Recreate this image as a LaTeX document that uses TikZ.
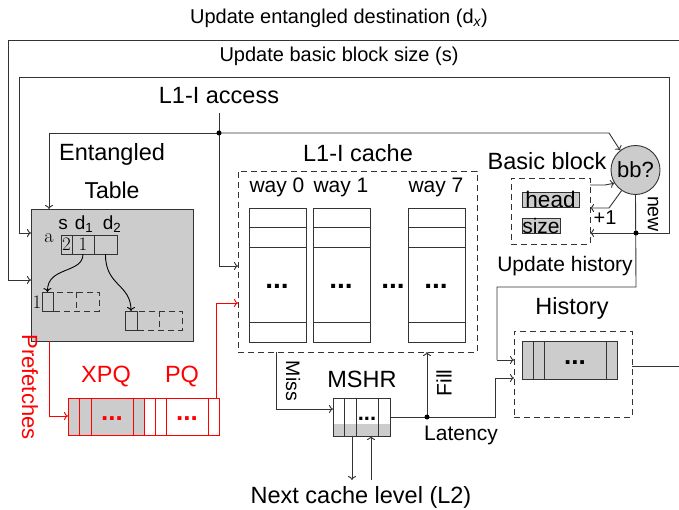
\documentclass[tikz,border=0pt]{standalone}
\usepackage{fontspec}
\newfontfamily\lsans{Liberation Sans}
\usetikzlibrary{arrows.meta}
\definecolor{lc}{HTML}{333333}
\definecolor{gf}{HTML}{CCCCCC}
\newcommand\myfs[1]{\lsans\fontsize{#1}{#1}\selectfont}
\newcommand\myrm[1]{\rmfamily\fontsize{#1}{#1}\selectfont}
\begin{document}
\begin{tikzpicture}[x=1pt,y=-1pt,
 ln/.style={draw=lc, line width=0.9pt},
 arr/.style={ln, -{To[length=4pt,width=8pt]}},
 rln/.style={draw=red, line width=0.9pt},
 rarr/.style={rln, -{To[length=4pt,width=8pt]}},
 dsh/.style={draw=lc, line width=0.9pt, dash pattern=on 6pt off 4pt},
 txt/.style={inner sep=0pt, font=\myfs{#1}},
 box/.style={draw=lc, line width=0.9pt, inner sep=0pt, outer sep=0pt, anchor=north west},
 dbox/.style={box, dash pattern=on 6pt off 4pt},
 rbox/.style={draw=red, line width=0.9pt, inner sep=0pt, outer sep=0pt, anchor=north west},
 dotn/.style={circle, fill=black, inner sep=0pt, minimum size=5pt},
 dots/.style={inner sep=0pt, anchor=base, font=\myfs{#1}\bfseries},
]
\useasboundingbox (0,0) rectangle (679,510);

% ---------- top labels ----------
\node[txt=20] (tdest) at (339,18) {Update entangled destination (d\textsubscript{\itshape x})};
\node[txt=20] (tsize) at (339,56) {Update basic block size (s)};
\node[txt=23.5] (acc) at (219,96) {L1-I access};

% ---------- Entangled table ----------
\node[txt=23.5] (ent1) at (112,154) {Entangled};
\node[txt=23] (ent2) at (112,190) {Table};
\node[box, fill=gf, minimum width=162pt, minimum height=132pt] (table) at (31,209) {};
\node[txt=19] (ls) at (63,224) {s};
\node[txt=19] (ld1) at (84,224) {d\textsubscript{1}};
\node[txt=19] (ld2) at (112,224) {d\textsubscript{2}};
\node[inner sep=0pt, font=\myrm{20}] (la) at (49,238) {a};
\node[box, minimum width=11pt, minimum height=19pt] (cs) at (61,235) {};
\node[box, minimum width=22pt, minimum height=19pt] (cd1) at (72,235) {};
\node[box, minimum width=23pt, minimum height=19pt] (cd2) at (94,235) {};
\node[inner sep=0pt, font=\myrm{19}] at (cs) {2};
\node[inner sep=0pt, font=\myrm{19}] at (cd1) {1};
\node[box, minimum width=11pt, minimum height=19pt] (e1) at (42,292) {};
\node[inner sep=0pt, font=\myrm{19}] (l1) at (37,302) {1};
\draw[dsh] (53,292) rectangle (99,311) (76,292) -- (76,311);
\node[box, minimum width=12pt, minimum height=19pt] (e2) at (125,311) {};
\draw[dsh] (137,311) rectangle (182,330) (159,311) -- (159,330);
\draw[arr, draw=black] (cd1.south) .. controls (83,274) and (47,266) .. (e1.north);
\draw[arr, draw=black] (cd2.south) .. controls (105,286) and (131,284) .. (e2.north);

% ---------- Prefetch queues ----------
\node[text=red, txt=22, rotate=-90] (pref) at (30,387) {Prefetches};
\node[text=red, txt=23.5] (xpql) at (106,377) {XPQ};
\node[text=red, txt=23.5] (pql) at (182,377) {PQ};
\fill[gf] (68,398) rectangle (144,435);
\node[rbox, minimum width=151pt, minimum height=37pt] (q) at (68,398) {};
\foreach \x in {79,91,133,144,155,166,208} \draw[rln] (\x,398) -- (\x,435);
\node[dots=26, text=red] at (112,420) {...};
\node[dots=26, text=red] at (187,420) {...};

% ---------- L1-I cache ----------
\node[txt=23.5] (cl) at (358,153) {L1-I cache};
\node[dbox, minimum width=239pt, minimum height=181pt] (cache) at (238,171) {};
\node[txt=21] at (277,187) {way 0};
\node[txt=21] at (341,187) {way 1};
\node[txt=21] at (436,187) {way 7};
\foreach \n/\x in {w0/249,w1/313,w7/408}{
  \node[box, minimum width=57pt, minimum height=134pt] (\n) at (\x,208) {};
  \draw[ln] (\x,227) -- +(57,0) (\x,247) -- +(57,0) (\x,322) -- +(57,0);
}
\node[dots=28] at (277,288) {...};
\node[dots=28] at (341,288) {...};
\node[dots=28] at (393,288) {...};
\node[dots=28] at (436,288) {...};

% ---------- Basic block ----------
\node[txt=23.5] (bbl) at (547,161) {Basic block};
\node[circle, draw=lc, line width=0.9pt, fill=gf, minimum size=49pt, inner sep=0pt, font=\myfs{22}] (bb) at (635.5,170) {bb?};
\node[dbox, minimum width=79pt, minimum height=66pt] (bbox) at (511,178) {};
\node[box, fill=gf, minimum width=57pt, minimum height=15pt] (head) at (522,192) {};
\node[txt=22.5] at (head) {head};
\node[box, fill=gf, minimum width=38pt, minimum height=15pt] (size) at (522,218) {};
\node[txt=21] at (size) {size};
\node[txt=20] (p1) at (605,218) {+1};
\node[txt=19.5, rotate=-90] (newl) at (653,214) {new};
\node[txt=21] (uh) at (565,266) {Update history};

% ---------- History ----------
\node[txt=23.5] (hl) at (572,308) {History};
\node[dbox, minimum width=118pt, minimum height=86pt] (hist) at (514,331) {};
\node[box, fill=gf, minimum width=95pt, minimum height=38pt] (hq) at (522,341) {};
\foreach \x in {533,544,606} \draw[ln] (\x,341) -- (\x,379);
\node[dots=26] at (575,364) {...};

% ---------- MSHR ----------
\node[txt=23.5] (ml) at (362,379) {MSHR};
\fill[gf] (333,424) rectangle (390,436);
\node[box, minimum width=57pt, minimum height=38pt] (mshr) at (333,398) {};
\foreach \x in {344,356,378} \draw[ln] (\x,398) -- (\x,436);
\node[dots=22] at (367,420) {...};
\node[txt=19.5, rotate=-90] (miss) at (293,381) {Miss};
\node[txt=21, rotate=90] (fill) at (444,383) {Fill};
\node[txt=21] (lat) at (461,435) {Latency};
\node[txt=23.5] (l2) at (361,497) {Next cache level (L2)};

% ---------- connectors ----------
% outer loop: update entangled destination
\draw[arr] (hist.east |- 0,366) -- (679,366) -- (679,40) -- (8,40) -- (8,280) -- (table.west |- 8,280);
% update basic block size loop
\draw[arr] (636,233) -- (669,233) -- (669,77) -- (19,77) -- (19,233) -- (table.west |- 19,233);
% L1-I access
\draw[ln] (acc.south |- 0,113) -- (219,133);
\draw[arr] (219,133) -- (49,133) -- (table.north -| 49,0);
\draw[arr] (219,133) -- (609,133) -- (bb.128);
\draw[arr] (219,133) -- (219,266) -- (cache.west |- 0,266);
\node[dotn] (j1) at (219,133) {};
% prefetches
\draw[rarr] (table.south -| 49,0) -- (49,416) -- (q.west |- 0,416);
\draw[rarr] (q.north -| 216,0) -- (216,303) -- (cache.west |- 0,303);
% basic block
\draw[arr] (bbox.east |- 0,185) -- (605,185) -- (bb.212);
\draw[arr] (bb.236) -- (609,208) -- (bbox.east |- 0,208);
\draw[ln] (bb.south) -- (636,287) -- (497,287) -- (497,360);
\draw[arr] (497,360) -- (hist.west |- 0,360);
\draw[arr] (636,233) -- (bbox.east |- 0,233);
\node[dotn] (j2) at (636,233) {};
% miss / fill / latency
\draw[arr] (cache.south -| 276,0) -- (276,409) -- (mshr.west |- 0,409);
\draw[arr] (mshr.east |- 0,417) -- (495,417) -- (495,378) -- (hist.west |- 0,378);
\draw[arr] (427,417) -- (cache.south -| 427,0);
\node[dotn] (j3) at (427,417) {};
% next level
\draw[arr] (mshr.south -| 352,0) -- (352,480);
\draw[arr] (371,480) -- (mshr.south -| 371,0);
\end{tikzpicture}
\end{document}
